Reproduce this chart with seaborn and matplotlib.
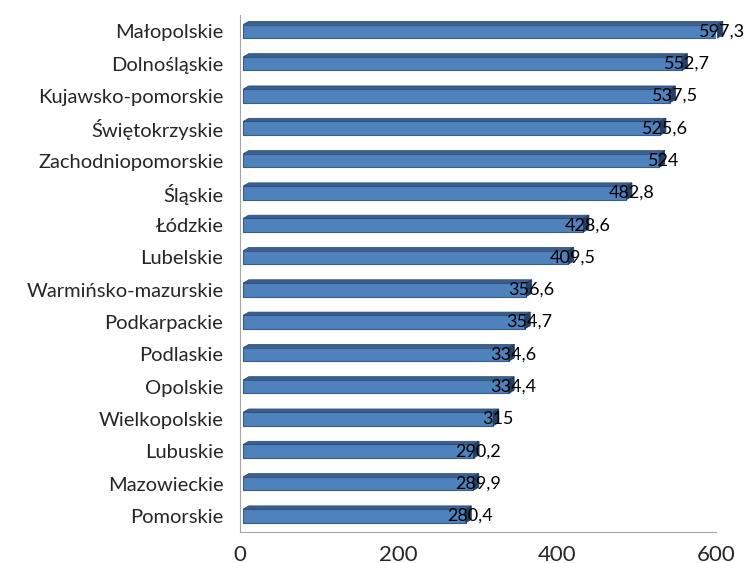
import matplotlib
matplotlib.use("Agg")
import matplotlib.pyplot as plt
import seaborn as sns
import pandas as pd
import numpy as np
from matplotlib.patches import Polygon

# data
regions = ["Małopolskie", "Dolnośląskie", "Kujawsko-pomorskie", "Świętokrzyskie",
           "Zachodniopomorskie", "Śląskie", "Łódzkie", "Lubelskie",
           "Warmińsko-mazurskie", "Podkarpackie", "Podlaskie", "Opolskie",
           "Wielkopolskie", "Lubuskie", "Mazowieckie", "Pomorskie"]
values = [597.3, 552.7, 537.5, 525.6, 524, 482.8, 428.6, 409.5,
          356.6, 354.7, 334.6, 334.4, 315, 290.2, 289.9, 280.4]
labels = ["597,3", "552,7", "537,5", "525,6", "524", "482,8", "428,6", "409,5",
          "356,6", "354,7", "334,6", "334,4", "315", "290,2", "289,9", "280,4"]

df = pd.DataFrame({"region": regions, "value": values})

sns.set_style("white")
plt.rcParams['font.family'] = ['Lato', 'DejaVu Sans']

fig = plt.figure(figsize=(7.5, 5.63), dpi=100)
ax = fig.add_axes([0.32, 0.055, 0.635, 0.918])

sns.barplot(data=df, y="region", x="value", orient="h", color="#4F81BD",
            saturation=1, width=0.42, edgecolor="#385D8A", linewidth=0.8, ax=ax)

ax.set_xlim(0, 600)
ax.set_ylim(len(regions) - 0.5, -0.5)

# fake 3D depth: top face and right face from each bar
dx = 7.0    # data units along x
dy = 0.1    # category units
for p in ax.patches[:len(regions)]:
    x0, y0 = p.get_x() + 4, p.get_y()
    p.set_x(x0)
    w, h = p.get_width(), p.get_height()
    top = Polygon([(x0, y0), (x0 + dx, y0 - dy), (x0 + w + dx, y0 - dy), (x0 + w, y0)],
                  closed=True, facecolor="#3B5F8E", edgecolor="#2C4A70", lw=0.5)
    side = Polygon([(x0 + w, y0), (x0 + w + dx, y0 - dy), (x0 + w + dx, y0 + h - dy), (x0 + w, y0 + h)],
                   closed=True, facecolor="#243F63", edgecolor="#1F3655", lw=0.5)
    for art in (top, side):
        art.set_zorder(3)
        art.set_clip_on(False)
        ax.add_patch(art)
    p.set_zorder(3)

# value labels at bar ends
for i, (v, lab) in enumerate(zip(values, labels)):
    ax.text(v + 10, i, lab, ha="center", va="center", fontsize=13, color="black",
            zorder=5, clip_on=False)

ax.set_xlabel("")
ax.set_ylabel("")
ax.set_xticks([0, 200, 400, 600])
ax.tick_params(axis="x", labelsize=16, length=6, direction="inout", color="#A6A6A6", pad=6)
ax.tick_params(axis="y", labelsize=14.5, length=0, pad=12)
ax.set_yticks(np.arange(-0.5, len(regions) + 0.5, 1), minor=True)
ax.tick_params(axis="y", which="minor", length=6, color="#A6A6A6", direction="out")

for s in ["top", "right"]:
    ax.spines[s].set_visible(False)
ax.spines["left"].set_color("#A6A6A6")
ax.spines["bottom"].set_color("#A6A6A6")

fig.savefig("out.png", dpi=100)
